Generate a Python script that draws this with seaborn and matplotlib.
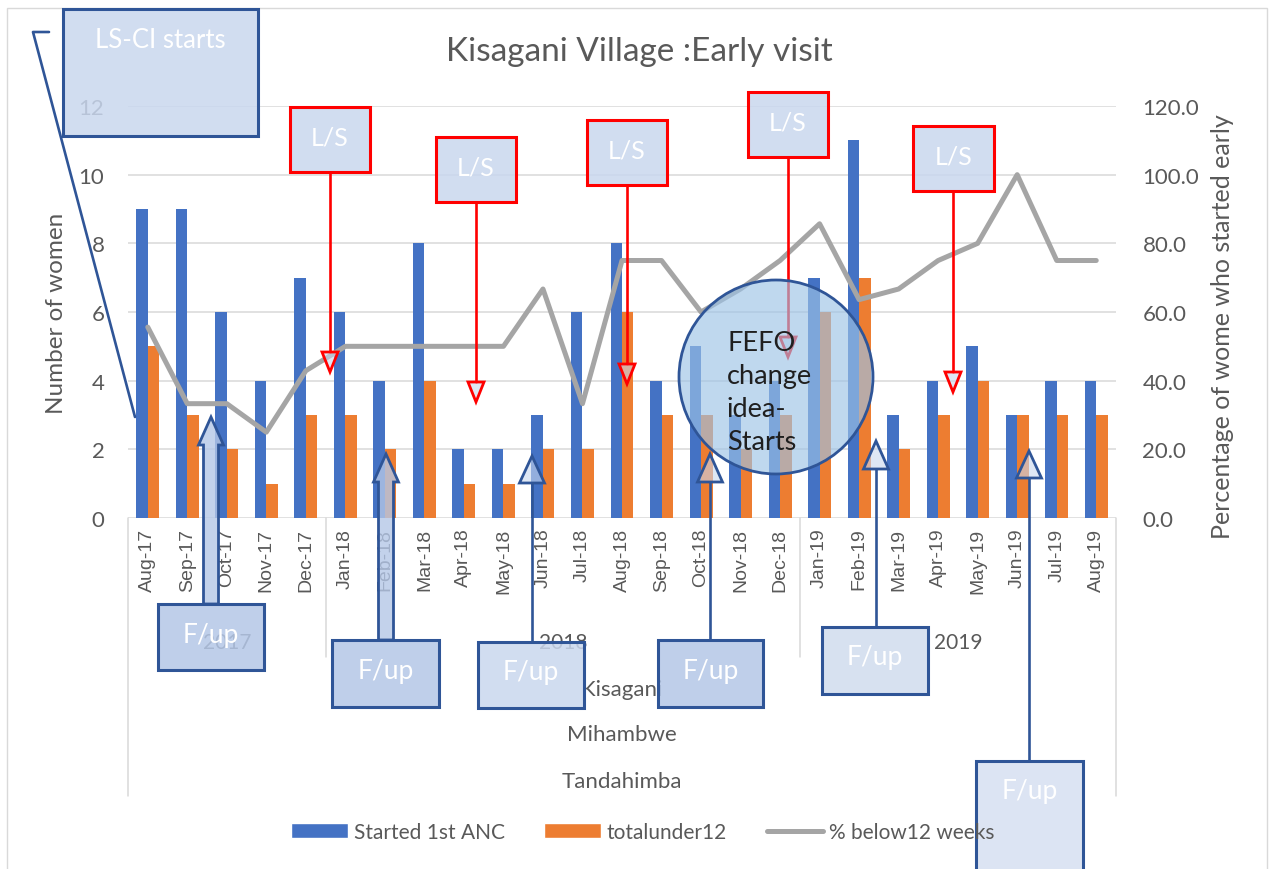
import matplotlib
matplotlib.use('Agg')
import matplotlib.pyplot as plt
from matplotlib.patches import Rectangle, Ellipse, Polygon, Patch
from matplotlib.lines import Line2D
from matplotlib.colors import to_rgba
import matplotlib.transforms as mtransforms
import seaborn as sns
import numpy as np
import pandas as pd

# ---- data ----
months = ["Aug-17", "Sep-17", "Oct-17", "Nov-17", "Dec-17",
          "Jan-18", "Feb-18", "Mar-18", "Apr-18", "May-18", "Jun-18", "Jul-18",
          "Aug-18", "Sep-18", "Oct-18", "Nov-18", "Dec-18",
          "Jan-19", "Feb-19", "Mar-19", "Apr-19", "May-19", "Jun-19", "Jul-19", "Aug-19"]
started_1st_anc = [9, 9, 6, 4, 7, 6, 4, 8, 2, 2, 3, 6, 8, 4, 5, 3, 4, 7, 11, 3, 4, 5, 3, 4, 4]
total_under12 = [5, 3, 2, 1, 3, 3, 2, 4, 1, 1, 2, 2, 6, 3, 3, 2, 3, 6, 7, 2, 3, 4, 3, 3, 3]
pct_below12 = [55.6, 33.3, 33.3, 25.0, 42.9, 50.0, 50.0, 50.0, 50.0, 50.0, 66.7, 33.3,
               75.0, 75.0, 60.0, 66.7, 75.0, 85.7, 63.6, 66.7, 75.0, 80.0, 100.0, 75.0, 75.0]
years = ["2017", "2018", "2019"]
year_counts = [5, 12, 8]
locations = ["Kisagani", "Mihambwe", "Tandahimba"]
series_names = ["Started 1st ANC", "totalunder12", "% below12 weeks"]

BLUE, ORANGE, GRAY = "#4472C4", "#ED7D31", "#A5A5A5"
TXT = "#595959"
GRID = "#D9D9D9"
RED = "#FF0000"
DKBLUE = "#2F5597"

W, H = 1276, 870


def fx(x):
    return x / W


def fy(y):
    return 1 - y / H


sns.set_style("white")
plt.rcParams['font.family'] = ['Lato', 'DejaVu Sans']

fig = plt.figure(figsize=(W / 100, H / 100), dpi=100)
ax = fig.add_axes([fx(128), fy(519), fx(1116) - fx(128), fy(107) - fy(519)])

df = pd.DataFrame({
    "month": months * 2,
    "value": started_1st_anc + total_under12,
    "series": [series_names[0]] * len(months) + [series_names[1]] * len(months),
})
sns.barplot(data=df, x="month", y="value", hue="series", order=months,
            hue_order=series_names[:2], palette=[BLUE, ORANGE], width=0.58,
            saturation=1, errorbar=None, linewidth=0, legend=False, ax=ax)

ax2 = ax.twinx()
sns.lineplot(x=np.arange(len(months)), y=pct_below12, ax=ax2, color=GRAY,
             linewidth=3.6, solid_capstyle="round")

n = len(months)
ax.set_xlim(-0.5, n - 0.5)
ax2.set_xlim(-0.5, n - 0.5)
ax.set_ylim(0, 12)
ax2.set_ylim(0, 120)
ax.set_yticks(range(0, 13, 2))
ax2.set_yticks(range(0, 121, 20))
ax2.set_yticklabels([f"{v:.1f}" for v in range(0, 121, 20)])
ax.set_xlabel("")
ax.set_ylabel("")
ax2.set_xlabel("")
ax2.set_ylabel("")
for a in (ax, ax2):
    for s in a.spines.values():
        s.set_visible(False)
ax.yaxis.grid(True, color=GRID, lw=1.1)
ax.set_axisbelow(True)
ax.tick_params(axis="y", length=0, pad=17, labelsize=16, labelcolor=TXT)
ax2.tick_params(axis="y", length=0, pad=19, labelsize=16, labelcolor=TXT)
ax.tick_params(axis="x", length=0, pad=7, labelsize=14, labelcolor=TXT)
for lab in ax.get_xticklabels():
    lab.set_rotation(90)
    lab.set_fontfamily("Liberation Sans")

# multi-level category axis
trans = mtransforms.blended_transform_factory(ax.transData, ax.transAxes)
bounds = np.concatenate([[-0.5], np.cumsum(year_counts) - 0.5])
for i, b in enumerate(bounds):
    y_end = -0.675 if i in (0, len(bounds) - 1) else -0.337
    ax.plot([b, b], [0, y_end], color=GRID, lw=1.1, transform=trans, clip_on=False)
for yr, lo, hi in zip(years, bounds[:-1], bounds[1:]):
    ax.text((lo + hi) / 2, -0.301, yr, transform=trans, ha="center", va="center",
            fontsize=15, color=TXT)
for loc, yy in zip(locations, [-0.415, -0.524, -0.638]):
    ax.text((n - 1) / 2, yy, loc, transform=trans, ha="center", va="center",
            fontsize=16, color=TXT)

# titles and axis labels
fig.text(fx(639), fy(52), "Kisagani Village :Early visit", ha="center", va="center",
         fontsize=24, color=TXT)
fig.text(fx(57), fy(313), "Number of women", rotation=90, ha="center", va="center",
         fontsize=17.5, color=TXT)
fig.text(fx(1222), fy(327), "Percentage of wome who started early", rotation=90,
         ha="center", va="center", fontsize=18, color=TXT)

# chart border
fig.add_artist(Rectangle((fx(7), fy(880)), fx(1267) - fx(7), fy(9) - fy(880),
                         transform=fig.transFigure, fill=False, edgecolor=GRID, lw=1))

# legend
handles = [Patch(facecolor=BLUE), Patch(facecolor=ORANGE),
           Line2D([0], [0], color=GRAY, lw=3.6, solid_capstyle="round")]
fig.legend(handles, series_names, loc="center", bbox_to_anchor=(fx(643), fy(833)),
           ncol=3, frameon=False, handlelength=2.7, handleheight=0.75,
           handletextpad=0.3, columnspacing=1.9, fontsize=15, labelcolor=TXT)


def box(x0, y0, x1, y1, text, edge, face, fs=19, z=5):
    fig.add_artist(Rectangle((fx(x0), fy(y1)), fx(x1) - fx(x0), fy(y0) - fy(y1),
                             transform=fig.transFigure, facecolor=face,
                             edgecolor=edge, lw=2.2, zorder=z))
    fig.text(fx((x0 + x1) / 2), fy(y0 + 30), text, ha="center", va="center",
             fontsize=fs, color="white", zorder=z + 0.1)


def poly(points, edge, face, z=5):
    fig.add_artist(Polygon([(fx(px), fy(py)) for px, py in points], closed=True,
                           transform=fig.transFigure, facecolor=face,
                           edgecolor=edge, lw=2.0, zorder=z))


def line(xs, ys, color, z=5):
    fig.add_artist(Line2D([fx(v) for v in xs], [fy(v) for v in ys],
                          transform=fig.transFigure, color=color, lw=1.9, zorder=z))


# LS-CI callout
line([49, 33, 135], [33, 33, 418], DKBLUE)
box(63, 10, 258, 137, "LS-CI starts", DKBLUE, to_rgba("#C9D7EE", 0.85), fs=18.5)

# L/S callouts with down arrows
ls_face = to_rgba("#C9D7EE", 0.85)
for x0, y0, x1, y1, ax_x, tip in [(290, 108, 370, 173, 330, 373),
                                  (436, 138, 516, 203, 476, 403),
                                  (587, 121, 667, 186, 627, 385),
                                  (748, 93, 828, 158, 788, 358),
                                  (913, 127, 994, 192, 953, 393)]:
    line([ax_x, ax_x], [y1, tip - 20], RED)
    poly([(ax_x - 8, tip - 20), (ax_x + 8, tip - 20), (ax_x, tip)], RED,
         to_rgba("#C9D7EE", 0.6))
    box(x0, y0, x1, y1, "L/S", RED, ls_face, fs=18)

# F/up callouts with up arrows
for x0, y0, x1, y1, ax_x, tip, base, style, face in [
        (158, 605, 264, 671, 211, 418, 446, "block", "#B4C7E7"),
        (332, 641, 439, 708, 386, 455, 483, "block", "#B4C7E7"),
        (478, 643, 584, 709, 532, 457, 484, "line", "#C9D7EE"),
        (658, 641, 763, 708, 710, 455, 483, "line", "#B4C7E7"),
        (822, 628, 928, 695, 876, 442, 470, "line", "#D0DCEE"),
        (976, 762, 1083, 885, 1029, 452, 479, "line", "#D6E0F2")]:
    if style == "block":
        poly([(ax_x - 7.5, y0), (ax_x - 7.5, base), (ax_x - 12.5, base), (ax_x, tip),
              (ax_x + 12.5, base), (ax_x + 7.5, base), (ax_x + 7.5, y0)], DKBLUE,
             to_rgba("#B4C7E7", 0.8))
    else:
        line([ax_x, ax_x], [y0, base], DKBLUE)
        poly([(ax_x - 12.5, base), (ax_x + 12.5, base), (ax_x, tip)], DKBLUE,
             to_rgba("#C9D7EE", 0.6))
    box(x0, y0, x1, y1, "F/up", DKBLUE, to_rgba(face, 0.85))

# FEFO circle
fig.add_artist(Ellipse((fx(776), fy(378)), 194 / W, 194 / H, transform=fig.transFigure,
                       facecolor=to_rgba("#9DC3E6", 0.65), edgecolor=DKBLUE, lw=2.0,
                       zorder=6))
fig.text(fx(727), fy(393), "FEFO\nchange\nidea-\nStarts", ha="left", va="center",
         fontsize=19.5, color="#1F1F1F", linespacing=1.4, zorder=7)

fig.savefig("out.png", dpi=100)
